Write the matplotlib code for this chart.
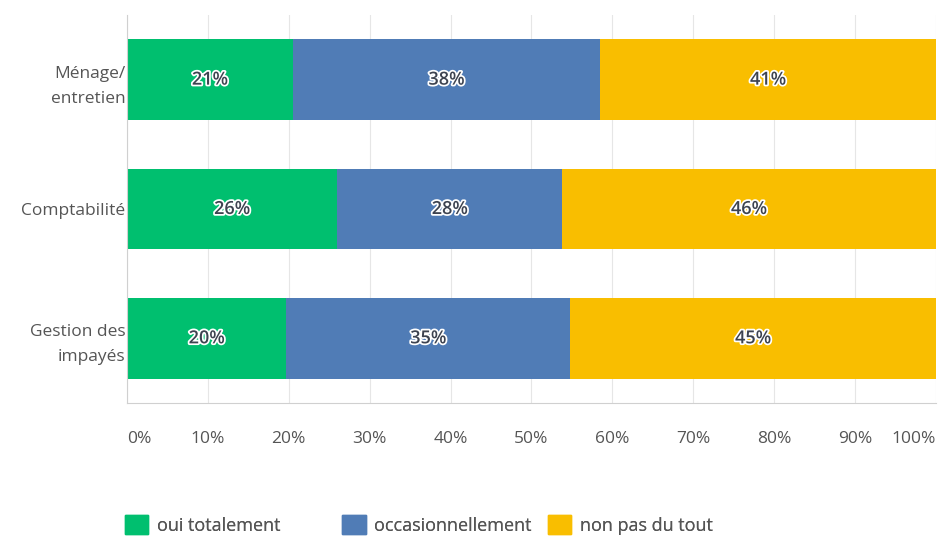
import matplotlib
matplotlib.use("Agg")
import matplotlib.pyplot as plt
import matplotlib.patheffects as pe
from matplotlib.patches import Patch

plt.rcParams['font.family'] = ['Open Sans', 'DejaVu Sans']

# données
categories = ["Ménage/\nentretien", "Comptabilité", "Gestion des\nimpayés"]
series_names = ["oui totalement", "occasionnellement", "non pas du tout"]
oui = [20.5, 26.0, 19.7]
occas = [38.0, 27.8, 35.1]
non = [41.5, 46.2, 45.2]
oui_labels = ["21%", "26%", "20%"]
occas_labels = ["38%", "28%", "35%"]
non_labels = ["41%", "46%", "45%"]
xticks = [0, 10, 20, 30, 40, 50, 60, 70, 80, 90, 100]

colors = ["#00BF6F", "#507CB6", "#F9BE00"]

fig = plt.figure(figsize=(9.4, 5.39), dpi=100)
ax = fig.add_axes([0.1351, 0.2523, 0.8606, 0.7199])

y = list(range(len(categories)))
left = [0.0] * len(categories)
halo = [pe.withStroke(linewidth=2.5, foreground="white")]
for vals, labs, col in zip([oui, occas, non], [oui_labels, occas_labels, non_labels], colors):
    ax.barh(y, vals, left=left, height=0.625, color=col, zorder=2)
    for i, (v, l) in enumerate(zip(vals, labs)):
        ax.text(left[i] + v / 2, i, l, ha="center", va="center", fontsize=13,
                fontweight="semibold", color="#3d4350", path_effects=halo, zorder=3)
    left = [a + b for a, b in zip(left, vals)]

ax.set_xlim(0, 100)
ax.set_ylim(2.5, -0.5)
ax.set_xticks(xticks)
ax.set_xticklabels([f"{t}%" for t in xticks], fontsize=12.5, color="#555555")
tl = ax.get_xticklabels()
tl[0].set_ha("left")
tl[-1].set_ha("right")
ax.set_yticks(y)
ax.set_yticklabels(categories, fontsize=12.5, color="#555555", linespacing=1.75)
ax.tick_params(axis="both", length=0)
ax.tick_params(axis="x", pad=20)
ax.tick_params(axis="y", pad=1)
ax.grid(axis="x", color="#e6e6e6", linewidth=0.8, zorder=0)
ax.set_axisbelow(True)
for s in ["top", "right"]:
    ax.spines[s].set_visible(False)
for s in ["left", "bottom"]:
    ax.spines[s].set_color("#d0d0d0")

# légende : une entrée par série, placées comme dans l'original
legend_x = [0.133, 0.364, 0.583]
for name, col, lx in zip(series_names, colors, legend_x):
    leg = fig.legend([Patch(facecolor=col, edgecolor=col)], [name], loc="lower left",
                     bbox_to_anchor=(lx, 0.008), frameon=False, fontsize=13,
                     handlelength=1.3, handleheight=1.3, handletextpad=0.45,
                     borderaxespad=0, borderpad=0.0, labelcolor="#555555")
    fig.add_artist(leg)

fig.savefig("out.png", dpi=100)
